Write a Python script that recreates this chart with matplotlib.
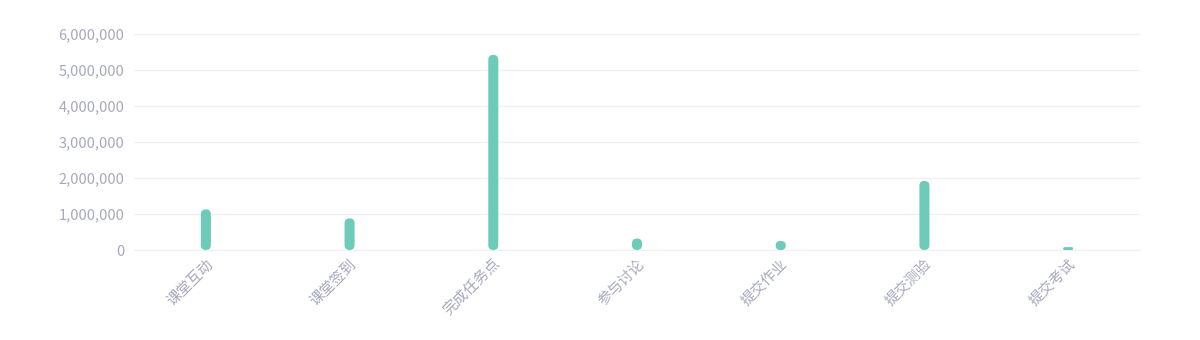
import matplotlib
matplotlib.use("Agg")
import matplotlib.pyplot as plt
from matplotlib.patches import FancyBboxPatch
from matplotlib.ticker import FuncFormatter

plt.rcParams['font.family'] = ['Noto Sans CJK SC', 'DejaVu Sans']

categories = ['课堂互动', '课堂签到', '完成任务点', '参与讨论', '提交作业', '提交测验', '提交考试']
values = [1130000, 880000, 5420000, 320000, 250000, 1920000, 80000]
yticks = [0, 1000000, 2000000, 3000000, 4000000, 5000000, 6000000]

bar_color = '#6fcbb9'
label_color = '#a6a9bd'
grid_color = '#f0f0f3'

W, H, DPI = 1200, 340, 100
fig = plt.figure(figsize=(W / DPI, H / DPI), dpi=DPI)
ax = fig.add_axes([134 / W, 90 / H, (1140 - 134) / W, (250 - 34) / H])

x = list(range(len(categories)))
bars = ax.bar(x, values, width=0.07, color=bar_color)
ax.set_xlim(-0.5, len(categories) - 0.5)
ax.set_ylim(0, 6000000)

# pixel scales for rounded bars
ax_w_px = (1140 - 134)
ax_h_px = (250 - 34)
xu_per_px = (len(categories)) / ax_w_px
yu_per_px = 6000000 / ax_h_px
aspect = yu_per_px / xu_per_px

for b in bars:
    bx, by = b.get_x(), b.get_y()
    bw, bh = b.get_width(), b.get_height()
    b.set_visible(False)
    h_scaled = bh / aspect
    r = min(bw / 2, h_scaled / 2)
    p = FancyBboxPatch((bx, by), bw, bh,
                       boxstyle=f"round,pad=0,rounding_size={r}",
                       mutation_aspect=aspect,
                       facecolor=bar_color, edgecolor='none', zorder=3)
    ax.add_patch(p)

ax.set_yticks(yticks)
ax.yaxis.set_major_formatter(FuncFormatter(lambda v, p: f"{int(v):,}"))
ax.set_xticks(x)
ax.set_xticklabels(categories, rotation=45, ha='right', va='top', rotation_mode='anchor')

ax.grid(axis='y', color=grid_color, linewidth=1)
ax.set_axisbelow(True)
for s in ['top', 'right', 'left']:
    ax.spines[s].set_visible(False)
ax.spines['bottom'].set_color(grid_color)
ax.tick_params(axis='both', length=0, colors=label_color, labelsize=10.5)
ax.tick_params(axis='y', pad=7)
ax.tick_params(axis='x', pad=5)

fig.savefig('out.png', dpi=DPI, facecolor='white')
